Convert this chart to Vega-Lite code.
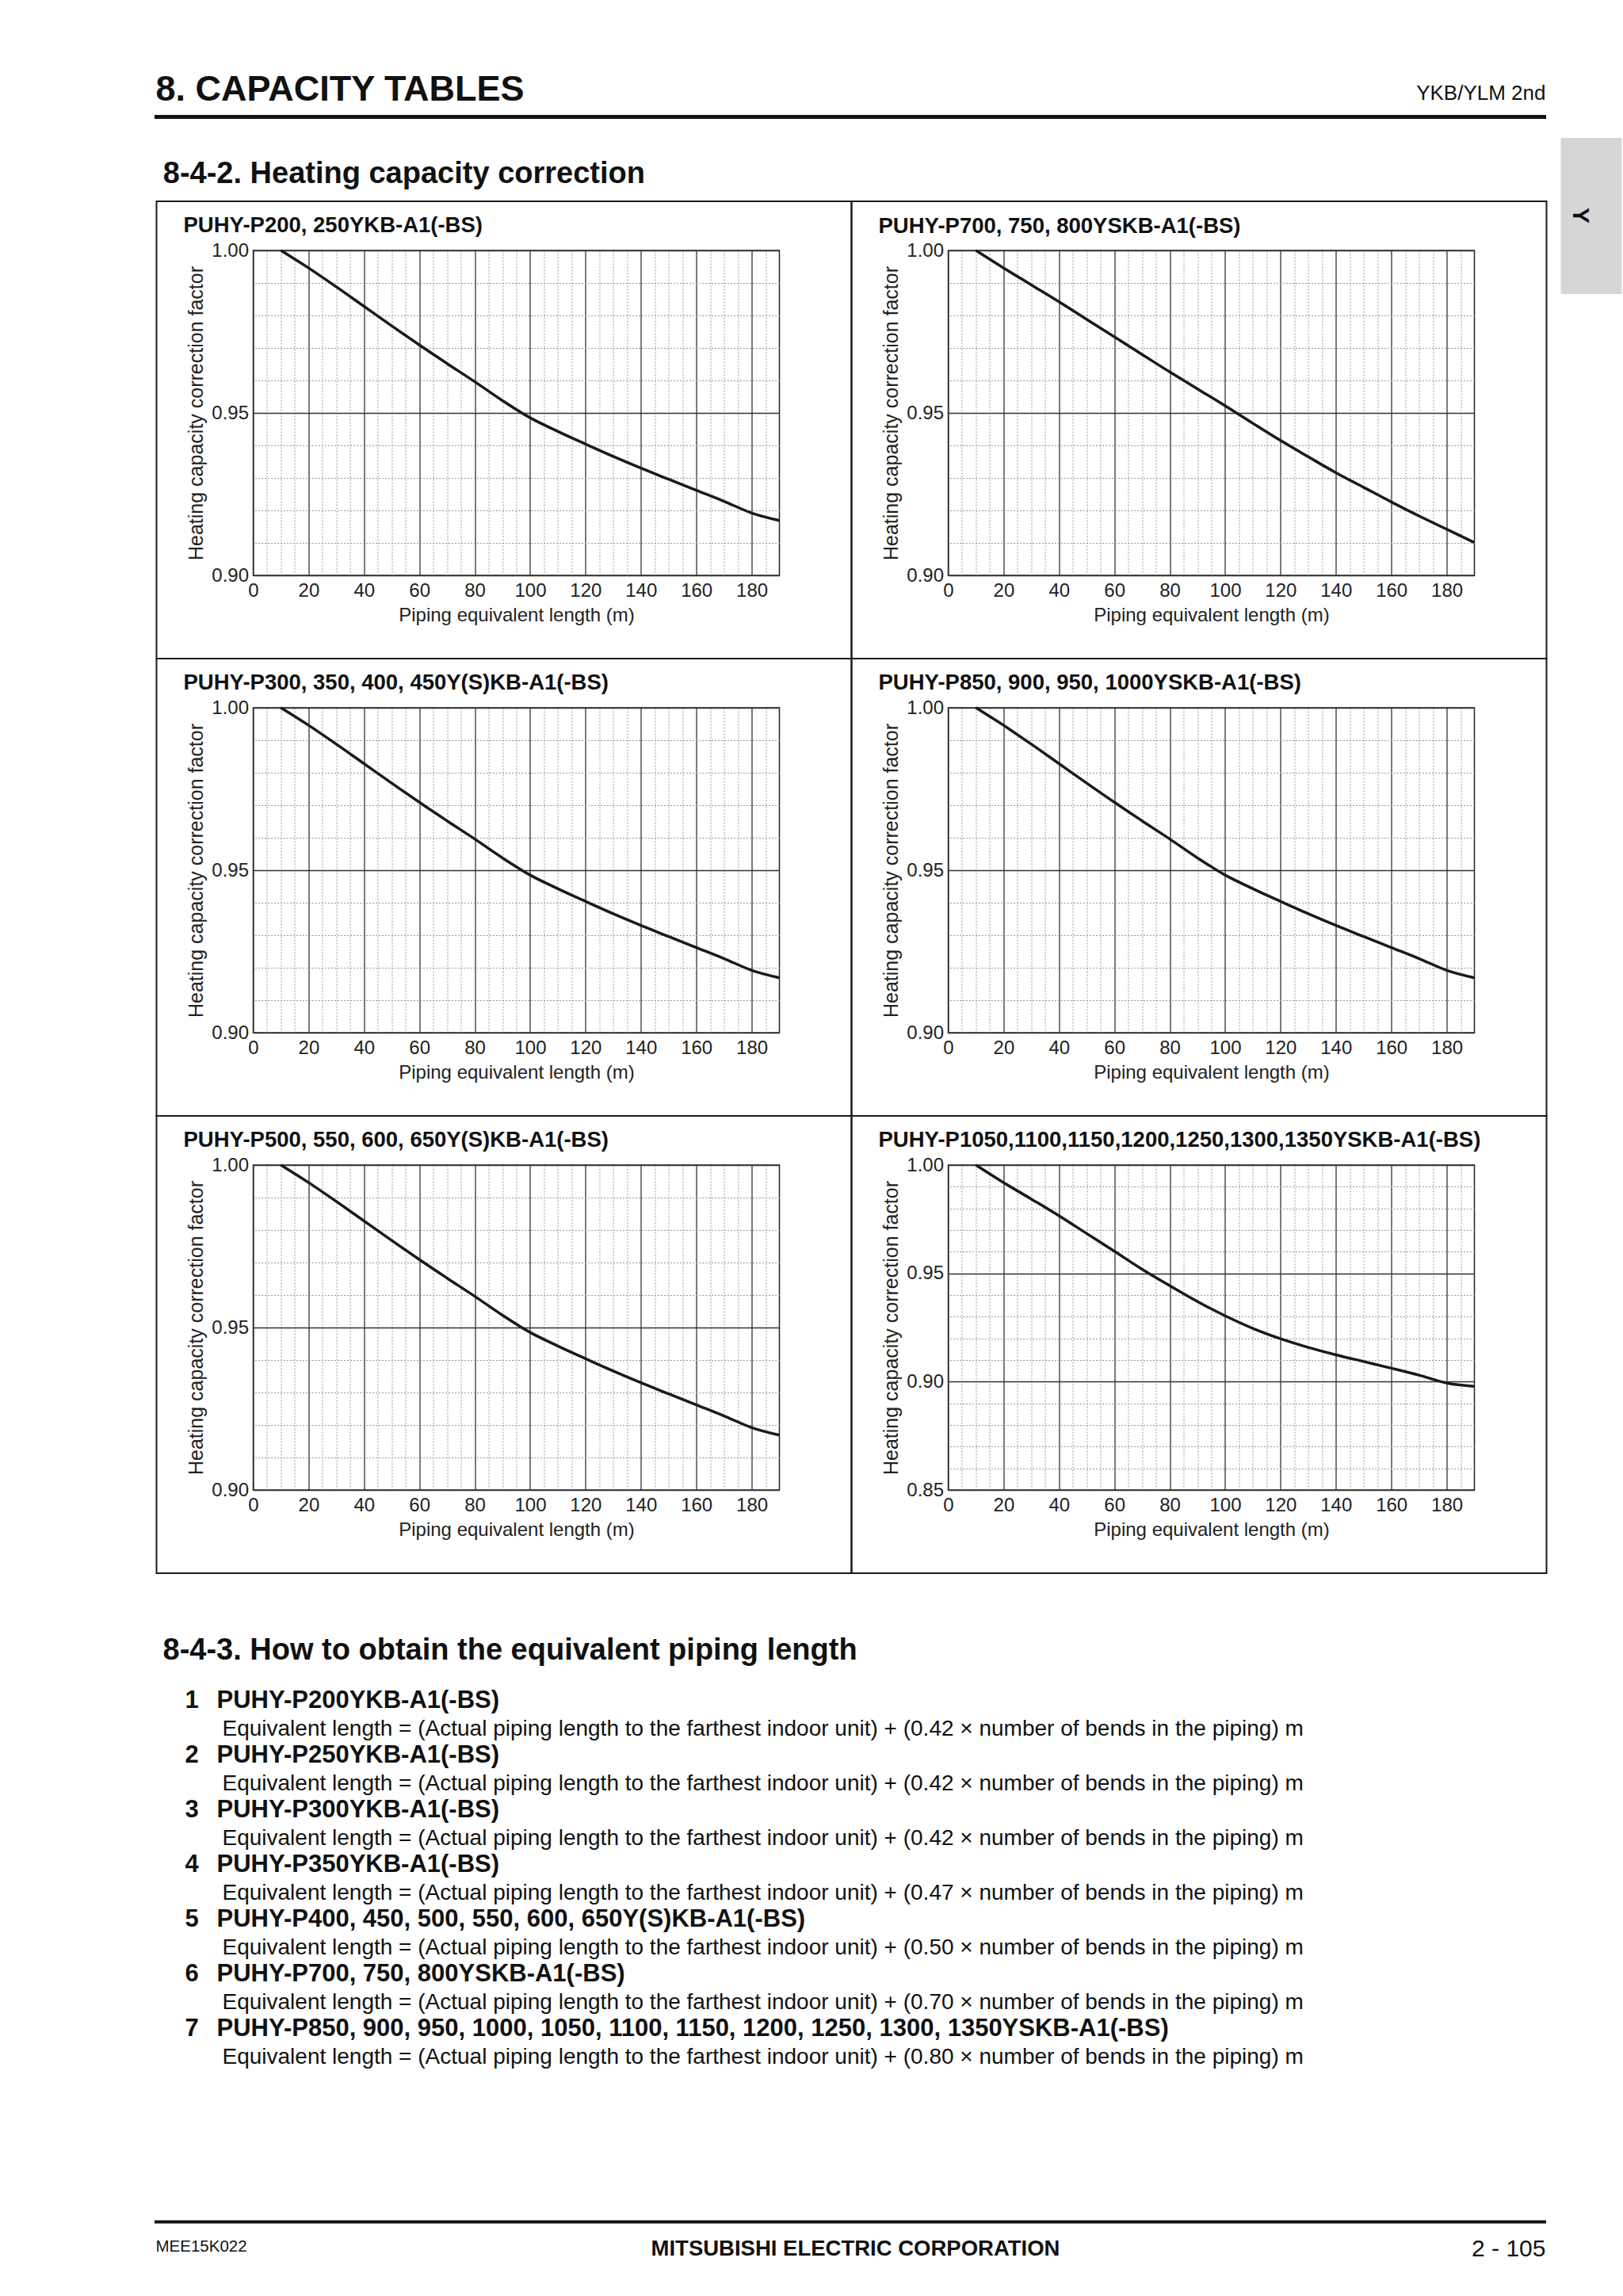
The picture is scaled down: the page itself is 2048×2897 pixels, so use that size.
{
  "$schema": "https://vega.github.io/schema/vega-lite/v6.json",
  "background": "white",
  "padding": {"left": 194.5, "top": 90, "right": 0, "bottom": 0},
  "autosize": {"type": "pad"},
  "config": {"font": "Liberation Sans", "view": {"stroke": null}},
  "datasets": {
    "c1": [{"length":10,"factor":1.0},{"length":20,"factor":0.9946},{"length":30,"factor":0.9888},{"length":40,"factor":0.9828},{"length":50,"factor":0.9768},{"length":60,"factor":0.9709},{"length":70,"factor":0.9652},{"length":80,"factor":0.9596},{"length":90,"factor":0.9538},{"length":100,"factor":0.9485},{"length":110,"factor":0.9443},{"length":120,"factor":0.9404},{"length":130,"factor":0.9366},{"length":140,"factor":0.933},{"length":150,"factor":0.9296},{"length":160,"factor":0.9262},{"length":170,"factor":0.9228},{"length":180,"factor":0.9192},{"length":190,"factor":0.9169}],
    "c2": [{"length":10,"factor":1.0},{"length":20,"factor":0.9946},{"length":30,"factor":0.9894},{"length":40,"factor":0.9842},{"length":50,"factor":0.9788},{"length":60,"factor":0.9734},{"length":70,"factor":0.968},{"length":80,"factor":0.9626},{"length":90,"factor":0.9574},{"length":100,"factor":0.9522},{"length":110,"factor":0.9468},{"length":120,"factor":0.9415},{"length":130,"factor":0.9365},{"length":140,"factor":0.9316},{"length":150,"factor":0.9271},{"length":160,"factor":0.9226},{"length":170,"factor":0.9183},{"length":180,"factor":0.9142},{"length":190,"factor":0.9101}],
    "c3": [{"length":10,"factor":1.0},{"length":20,"factor":0.9946},{"length":30,"factor":0.9888},{"length":40,"factor":0.9828},{"length":50,"factor":0.9768},{"length":60,"factor":0.9709},{"length":70,"factor":0.9652},{"length":80,"factor":0.9596},{"length":90,"factor":0.9538},{"length":100,"factor":0.9485},{"length":110,"factor":0.9443},{"length":120,"factor":0.9404},{"length":130,"factor":0.9366},{"length":140,"factor":0.933},{"length":150,"factor":0.9296},{"length":160,"factor":0.9262},{"length":170,"factor":0.9228},{"length":180,"factor":0.9192},{"length":190,"factor":0.9169}],
    "c4": [{"length":10,"factor":1.0},{"length":20,"factor":0.9946},{"length":30,"factor":0.9888},{"length":40,"factor":0.9828},{"length":50,"factor":0.9768},{"length":60,"factor":0.9709},{"length":70,"factor":0.9652},{"length":80,"factor":0.9596},{"length":90,"factor":0.9538},{"length":100,"factor":0.9485},{"length":110,"factor":0.9443},{"length":120,"factor":0.9404},{"length":130,"factor":0.9366},{"length":140,"factor":0.933},{"length":150,"factor":0.9296},{"length":160,"factor":0.9262},{"length":170,"factor":0.9228},{"length":180,"factor":0.9192},{"length":190,"factor":0.9169}],
    "c5": [{"length":10,"factor":1.0},{"length":20,"factor":0.9946},{"length":30,"factor":0.9888},{"length":40,"factor":0.9828},{"length":50,"factor":0.9768},{"length":60,"factor":0.9709},{"length":70,"factor":0.9652},{"length":80,"factor":0.9596},{"length":90,"factor":0.9538},{"length":100,"factor":0.9485},{"length":110,"factor":0.9443},{"length":120,"factor":0.9404},{"length":130,"factor":0.9366},{"length":140,"factor":0.933},{"length":150,"factor":0.9296},{"length":160,"factor":0.9262},{"length":170,"factor":0.9228},{"length":180,"factor":0.9192},{"length":190,"factor":0.9169}],
    "c6": [{"length":10,"factor":1.0},{"length":20,"factor":0.9919},{"length":30,"factor":0.9843},{"length":40,"factor":0.9766},{"length":50,"factor":0.9684},{"length":60,"factor":0.9602},{"length":70,"factor":0.9519},{"length":80,"factor":0.9443},{"length":90,"factor":0.937},{"length":100,"factor":0.9304},{"length":110,"factor":0.9246},{"length":120,"factor":0.9198},{"length":130,"factor":0.9158},{"length":140,"factor":0.9124},{"length":150,"factor":0.9093},{"length":160,"factor":0.9062},{"length":170,"factor":0.903},{"length":180,"factor":0.8994},{"length":190,"factor":0.8978}],
    "list": [
      {"line":1,"kind":"model","num":"1","text":"PUHY-P200YKB-A1(-BS)"},
      {"line":2,"kind":"formula","num":"","text":"Equivalent length = (Actual piping length to the farthest indoor unit) + (0.42 × number of bends in the piping) m"},
      {"line":3,"kind":"model","num":"2","text":"PUHY-P250YKB-A1(-BS)"},
      {"line":4,"kind":"formula","num":"","text":"Equivalent length = (Actual piping length to the farthest indoor unit) + (0.42 × number of bends in the piping) m"},
      {"line":5,"kind":"model","num":"3","text":"PUHY-P300YKB-A1(-BS)"},
      {"line":6,"kind":"formula","num":"","text":"Equivalent length = (Actual piping length to the farthest indoor unit) + (0.42 × number of bends in the piping) m"},
      {"line":7,"kind":"model","num":"4","text":"PUHY-P350YKB-A1(-BS)"},
      {"line":8,"kind":"formula","num":"","text":"Equivalent length = (Actual piping length to the farthest indoor unit) + (0.47 × number of bends in the piping) m"},
      {"line":9,"kind":"model","num":"5","text":"PUHY-P400, 450, 500, 550, 600, 650Y(S)KB-A1(-BS)"},
      {"line":10,"kind":"formula","num":"","text":"Equivalent length = (Actual piping length to the farthest indoor unit) + (0.50 × number of bends in the piping) m"},
      {"line":11,"kind":"model","num":"6","text":"PUHY-P700, 750, 800YSKB-A1(-BS)"},
      {"line":12,"kind":"formula","num":"","text":"Equivalent length = (Actual piping length to the farthest indoor unit) + (0.70 × number of bends in the piping) m"},
      {"line":13,"kind":"model","num":"7","text":"PUHY-P850, 900, 950, 1000, 1050, 1100, 1150, 1200, 1250, 1300, 1350YSKB-A1(-BS)"},
      {"line":14,"kind":"formula","num":"","text":"Equivalent length = (Actual piping length to the farthest indoor unit) + (0.80 × number of bends in the piping) m"}
    ]
  },
  "spacing": 26,
  "vconcat": [
    {
      "width": 1756,
      "height": 37,
      "encoding": {
        "x": {"field": "side", "type": "nominal", "scale": {"type": "point", "domain": ["left", "right"], "padding": 0},
              "axis": {"orient": "bottom", "labels": false, "ticks": false, "grid": false, "domain": true, "domainColor": "#111111", "domainWidth": 5, "title": null}}
      },
      "layer": [
        {"data": {"values": [{"side": "left", "label": "8. CAPACITY TABLES"}]},
         "mark": {"type": "text", "align": "left", "baseline": "alphabetic", "dx": 2, "dy": -2, "fontSize": 45, "fontWeight": "bold", "color": "#111111"},
         "encoding": {"text": {"field": "label"}}},
        {"data": {"values": [{"side": "right", "label": "YKB/YLM 2nd"}]},
         "mark": {"type": "text", "align": "right", "baseline": "alphabetic", "fontSize": 26, "dy": -3, "color": "#111111"},
         "encoding": {"text": {"field": "label"}}}
      ]
    },
    {
      "spacing": 77,
      "vconcat": [
        {
          "spacing": 0,
          "hconcat": [
            {"width": 1, "height": 1, "data": {"values": []}, "mark": {"type": "point", "opacity": 0}},
            {
              "title": {"text": "8-4-2. Heating capacity correction", "anchor": "start", "frame": "bounds", "dx": 10, "offset": -96, "baseline": "alphabetic", "fontSize": 38, "fontWeight": "bold", "color": "#111111"},
              "columns": 2,
              "bounds": "flush",
              "spacing": {"row": 167, "column": 213},
              "concat": [
                {
                  "width": 664, "height": 410,
                  "view": {"stroke": "#222222", "strokeWidth": 1.5},
                  "title": {"text": "PUHY-P200, 250YKB-A1(-BS)", "anchor": "start", "frame": "group", "dx": -88, "offset": -68, "baseline": "alphabetic", "fontSize": 27.5, "fontWeight": "bold", "color": "#111111"},
                  "layer": [
                    {"data": {"values": [{}]},
                     "mark": {"type": "rect", "filled": false, "color": "#1a1a1a", "strokeWidth": 2},
                     "encoding": {
                       "x": {"datum": -34.91, "type": "quantitative", "scale": {"domain": [0, 190], "nice": false, "zero": false},
                             "axis": {"orient": "top", "values": [5,10,15,25,30,35,45,50,55,65,70,75,85,90,95,105,110,115,125,130,135,145,150,155,165,170,175,185], "grid": true, "gridColor": "#999999", "gridDash": [2, 2], "gridWidth": 1, "labels": false, "ticks": false, "domain": false, "title": null}},
                       "x2": {"datum": 216.039},
                       "y": {"datum": 1.015122, "type": "quantitative", "scale": {"domain": [0.9, 1.0], "nice": false, "zero": false},
                             "axis": {"orient": "right", "values": [0.91,0.92,0.93,0.94,0.96,0.97,0.98,0.99], "grid": true, "gridColor": "#999999", "gridDash": [2, 2], "gridWidth": 1, "labels": false, "ticks": false, "domain": false, "title": null}},
                       "y2": {"datum": 0.87439}
                     }},
                    {"data": {"name": "c1"},
                     "mark": {"type": "line", "color": "#1a1a1a", "strokeWidth": 3.5, "interpolate": "monotone"},
                     "encoding": {
                       "x": {"field": "length", "type": "quantitative", "scale": {"domain": [0, 190], "nice": false, "zero": false},
                             "axis": {"orient": "bottom", "values": [0,20,40,60,80,100,120,140,160,180], "grid": true, "gridColor": "#333333", "gridWidth": 1.3, "ticks": false, "tickSize": 0, "domain": false, "labelFontSize": 24, "labelColor": "#222222", "labelPadding": 7, "labelFlush": false, "labelOverlap": false, "title": "Piping equivalent length (m)", "titleFontSize": 24, "titleFontWeight": "normal", "titleColor": "#222222", "titlePadding": 7}},
                       "y": {"field": "factor", "type": "quantitative", "scale": {"domain": [0.9, 1.0], "nice": false, "zero": false},
                             "axis": {"orient": "left", "values": [0.9, 0.95, 1.0], "format": ".2f", "grid": true, "gridColor": "#333333", "gridWidth": 1.3, "ticks": false, "tickSize": 0, "domain": false, "labelFontSize": 24, "labelColor": "#222222", "labelPadding": 6, "labelFlush": false, "labelOverlap": false, "title": "Heating capacity correction factor", "titleFontSize": 25, "titleFontWeight": "normal", "titleColor": "#222222", "titlePadding": 6}}
                     }}
                  ],
                  "resolve": {"axis": {"x": "independent", "y": "independent"}}
                },
                {
                  "width": 664, "height": 410,
                  "view": {"stroke": "#222222", "strokeWidth": 1.5},
                  "title": {"text": "PUHY-P700, 750, 800YSKB-A1(-BS)", "anchor": "start", "frame": "group", "dx": -88, "offset": -147, "baseline": "alphabetic", "fontSize": 27.5, "fontWeight": "bold", "color": "#111111"},
                  "layer": [
                    {"data": {"values": [{}]},
                     "mark": {"type": "rect", "filled": false, "color": "#1a1a1a", "strokeWidth": 2},
                     "encoding": {
                       "x": {"datum": -34.91, "type": "quantitative", "scale": {"domain": [0, 190], "nice": false, "zero": false},
                             "axis": {"orient": "top", "values": [5,10,15,25,30,35,45,50,55,65,70,75,85,90,95,105,110,115,125,130,135,145,150,155,165,170,175,185], "grid": true, "gridColor": "#999999", "gridDash": [2, 2], "gridWidth": 1, "labels": false, "ticks": false, "domain": false, "title": null}},
                       "x2": {"datum": 216.039},
                       "y": {"datum": 1.015122, "type": "quantitative", "scale": {"domain": [0.9, 1.0], "nice": false, "zero": false},
                             "axis": {"orient": "right", "values": [0.91,0.92,0.93,0.94,0.96,0.97,0.98,0.99], "grid": true, "gridColor": "#999999", "gridDash": [2, 2], "gridWidth": 1, "labels": false, "ticks": false, "domain": false, "title": null}},
                       "y2": {"datum": 0.87439}
                     }},
                    {"data": {"name": "c2"},
                     "mark": {"type": "line", "color": "#1a1a1a", "strokeWidth": 3.5, "interpolate": "monotone"},
                     "encoding": {
                       "x": {"field": "length", "type": "quantitative", "scale": {"domain": [0, 190], "nice": false, "zero": false},
                             "axis": {"orient": "bottom", "values": [0,20,40,60,80,100,120,140,160,180], "grid": true, "gridColor": "#333333", "gridWidth": 1.3, "ticks": false, "tickSize": 0, "domain": false, "labelFontSize": 24, "labelColor": "#222222", "labelPadding": 7, "labelFlush": false, "labelOverlap": false, "title": "Piping equivalent length (m)", "titleFontSize": 24, "titleFontWeight": "normal", "titleColor": "#222222", "titlePadding": 7}},
                       "y": {"field": "factor", "type": "quantitative", "scale": {"domain": [0.9, 1.0], "nice": false, "zero": false},
                             "axis": {"orient": "left", "values": [0.9, 0.95, 1.0], "format": ".2f", "grid": true, "gridColor": "#333333", "gridWidth": 1.3, "ticks": false, "tickSize": 0, "domain": false, "labelFontSize": 24, "labelColor": "#222222", "labelPadding": 6, "labelFlush": false, "labelOverlap": false, "title": "Heating capacity correction factor", "titleFontSize": 25, "titleFontWeight": "normal", "titleColor": "#222222", "titlePadding": 6}}
                     }},
                    {"data": {"values": [{}]},
                     "mark": {"type": "rect", "color": "#d6d6d6"},
                     "encoding": {
                       "x": {"datum": 221.19, "type": "quantitative", "scale": {"domain": [0, 190], "nice": false, "zero": false}, "axis": null},
                       "x2": {"datum": 243.223},
                       "y": {"datum": 1.034634, "type": "quantitative", "scale": {"domain": [0.9, 1.0], "nice": false, "zero": false}, "axis": null},
                       "y2": {"datum": 0.986585}
                     }},
                    {"data": {"values": [{"tab": "Y"}]},
                     "mark": {"type": "text", "angle": 90, "align": "center", "baseline": "middle", "fontSize": 30, "fontWeight": "bold", "color": "#111111"},
                     "encoding": {
                       "x": {"datum": 228.058, "type": "quantitative", "scale": {"domain": [0, 190], "nice": false, "zero": false}, "axis": null},
                       "y": {"datum": 1.010732, "type": "quantitative", "scale": {"domain": [0.9, 1.0], "nice": false, "zero": false}, "axis": null},
                       "text": {"field": "tab"}
                     }}
                  ],
                  "resolve": {"axis": {"x": "independent", "y": "independent"}}
                },
                {
                  "width": 664, "height": 410,
                  "view": {"stroke": "#222222", "strokeWidth": 1.5},
                  "title": {"text": "PUHY-P300, 350, 400, 450Y(S)KB-A1(-BS)", "anchor": "start", "frame": "group", "dx": -88, "offset": -68, "baseline": "alphabetic", "fontSize": 27.5, "fontWeight": "bold", "color": "#111111"},
                  "layer": [
                    {"data": {"values": [{}]},
                     "mark": {"type": "rect", "filled": false, "color": "#1a1a1a", "strokeWidth": 2},
                     "encoding": {
                       "x": {"datum": -34.91, "type": "quantitative", "scale": {"domain": [0, 190], "nice": false, "zero": false},
                             "axis": {"orient": "top", "values": [5,10,15,25,30,35,45,50,55,65,70,75,85,90,95,105,110,115,125,130,135,145,150,155,165,170,175,185], "grid": true, "gridColor": "#999999", "gridDash": [2, 2], "gridWidth": 1, "labels": false, "ticks": false, "domain": false, "title": null}},
                       "x2": {"datum": 216.039},
                       "y": {"datum": 1.015122, "type": "quantitative", "scale": {"domain": [0.9, 1.0], "nice": false, "zero": false},
                             "axis": {"orient": "right", "values": [0.91,0.92,0.93,0.94,0.96,0.97,0.98,0.99], "grid": true, "gridColor": "#999999", "gridDash": [2, 2], "gridWidth": 1, "labels": false, "ticks": false, "domain": false, "title": null}},
                       "y2": {"datum": 0.87439}
                     }},
                    {"data": {"name": "c3"},
                     "mark": {"type": "line", "color": "#1a1a1a", "strokeWidth": 3.5, "interpolate": "monotone"},
                     "encoding": {
                       "x": {"field": "length", "type": "quantitative", "scale": {"domain": [0, 190], "nice": false, "zero": false},
                             "axis": {"orient": "bottom", "values": [0,20,40,60,80,100,120,140,160,180], "grid": true, "gridColor": "#333333", "gridWidth": 1.3, "ticks": false, "tickSize": 0, "domain": false, "labelFontSize": 24, "labelColor": "#222222", "labelPadding": 7, "labelFlush": false, "labelOverlap": false, "title": "Piping equivalent length (m)", "titleFontSize": 24, "titleFontWeight": "normal", "titleColor": "#222222", "titlePadding": 7}},
                       "y": {"field": "factor", "type": "quantitative", "scale": {"domain": [0.9, 1.0], "nice": false, "zero": false},
                             "axis": {"orient": "left", "values": [0.9, 0.95, 1.0], "format": ".2f", "grid": true, "gridColor": "#333333", "gridWidth": 1.3, "ticks": false, "tickSize": 0, "domain": false, "labelFontSize": 24, "labelColor": "#222222", "labelPadding": 6, "labelFlush": false, "labelOverlap": false, "title": "Heating capacity correction factor", "titleFontSize": 25, "titleFontWeight": "normal", "titleColor": "#222222", "titlePadding": 6}}
                     }}
                  ],
                  "resolve": {"axis": {"x": "independent", "y": "independent"}}
                },
                {
                  "width": 664, "height": 410,
                  "view": {"stroke": "#222222", "strokeWidth": 1.5},
                  "title": {"text": "PUHY-P850, 900, 950, 1000YSKB-A1(-BS)", "anchor": "start", "frame": "group", "dx": -88, "offset": -68, "baseline": "alphabetic", "fontSize": 27.5, "fontWeight": "bold", "color": "#111111"},
                  "layer": [
                    {"data": {"values": [{}]},
                     "mark": {"type": "rect", "filled": false, "color": "#1a1a1a", "strokeWidth": 2},
                     "encoding": {
                       "x": {"datum": -34.91, "type": "quantitative", "scale": {"domain": [0, 190], "nice": false, "zero": false},
                             "axis": {"orient": "top", "values": [5,10,15,25,30,35,45,50,55,65,70,75,85,90,95,105,110,115,125,130,135,145,150,155,165,170,175,185], "grid": true, "gridColor": "#999999", "gridDash": [2, 2], "gridWidth": 1, "labels": false, "ticks": false, "domain": false, "title": null}},
                       "x2": {"datum": 216.039},
                       "y": {"datum": 1.015122, "type": "quantitative", "scale": {"domain": [0.9, 1.0], "nice": false, "zero": false},
                             "axis": {"orient": "right", "values": [0.91,0.92,0.93,0.94,0.96,0.97,0.98,0.99], "grid": true, "gridColor": "#999999", "gridDash": [2, 2], "gridWidth": 1, "labels": false, "ticks": false, "domain": false, "title": null}},
                       "y2": {"datum": 0.87439}
                     }},
                    {"data": {"name": "c4"},
                     "mark": {"type": "line", "color": "#1a1a1a", "strokeWidth": 3.5, "interpolate": "monotone"},
                     "encoding": {
                       "x": {"field": "length", "type": "quantitative", "scale": {"domain": [0, 190], "nice": false, "zero": false},
                             "axis": {"orient": "bottom", "values": [0,20,40,60,80,100,120,140,160,180], "grid": true, "gridColor": "#333333", "gridWidth": 1.3, "ticks": false, "tickSize": 0, "domain": false, "labelFontSize": 24, "labelColor": "#222222", "labelPadding": 7, "labelFlush": false, "labelOverlap": false, "title": "Piping equivalent length (m)", "titleFontSize": 24, "titleFontWeight": "normal", "titleColor": "#222222", "titlePadding": 7}},
                       "y": {"field": "factor", "type": "quantitative", "scale": {"domain": [0.9, 1.0], "nice": false, "zero": false},
                             "axis": {"orient": "left", "values": [0.9, 0.95, 1.0], "format": ".2f", "grid": true, "gridColor": "#333333", "gridWidth": 1.3, "ticks": false, "tickSize": 0, "domain": false, "labelFontSize": 24, "labelColor": "#222222", "labelPadding": 6, "labelFlush": false, "labelOverlap": false, "title": "Heating capacity correction factor", "titleFontSize": 25, "titleFontWeight": "normal", "titleColor": "#222222", "titlePadding": 6}}
                     }}
                  ],
                  "resolve": {"axis": {"x": "independent", "y": "independent"}}
                },
                {
                  "width": 664, "height": 410,
                  "view": {"stroke": "#222222", "strokeWidth": 1.5},
                  "title": {"text": "PUHY-P500, 550, 600, 650Y(S)KB-A1(-BS)", "anchor": "start", "frame": "group", "dx": -88, "offset": -68, "baseline": "alphabetic", "fontSize": 27.5, "fontWeight": "bold", "color": "#111111"},
                  "layer": [
                    {"data": {"values": [{}]},
                     "mark": {"type": "rect", "filled": false, "color": "#1a1a1a", "strokeWidth": 2},
                     "encoding": {
                       "x": {"datum": -34.91, "type": "quantitative", "scale": {"domain": [0, 190], "nice": false, "zero": false},
                             "axis": {"orient": "top", "values": [5,10,15,25,30,35,45,50,55,65,70,75,85,90,95,105,110,115,125,130,135,145,150,155,165,170,175,185], "grid": true, "gridColor": "#999999", "gridDash": [2, 2], "gridWidth": 1, "labels": false, "ticks": false, "domain": false, "title": null}},
                       "x2": {"datum": 216.039},
                       "y": {"datum": 1.015122, "type": "quantitative", "scale": {"domain": [0.9, 1.0], "nice": false, "zero": false},
                             "axis": {"orient": "right", "values": [0.91,0.92,0.93,0.94,0.96,0.97,0.98,0.99], "grid": true, "gridColor": "#999999", "gridDash": [2, 2], "gridWidth": 1, "labels": false, "ticks": false, "domain": false, "title": null}},
                       "y2": {"datum": 0.87439}
                     }},
                    {"data": {"name": "c5"},
                     "mark": {"type": "line", "color": "#1a1a1a", "strokeWidth": 3.5, "interpolate": "monotone"},
                     "encoding": {
                       "x": {"field": "length", "type": "quantitative", "scale": {"domain": [0, 190], "nice": false, "zero": false},
                             "axis": {"orient": "bottom", "values": [0,20,40,60,80,100,120,140,160,180], "grid": true, "gridColor": "#333333", "gridWidth": 1.3, "ticks": false, "tickSize": 0, "domain": false, "labelFontSize": 24, "labelColor": "#222222", "labelPadding": 7, "labelFlush": false, "labelOverlap": false, "title": "Piping equivalent length (m)", "titleFontSize": 24, "titleFontWeight": "normal", "titleColor": "#222222", "titlePadding": 7}},
                       "y": {"field": "factor", "type": "quantitative", "scale": {"domain": [0.9, 1.0], "nice": false, "zero": false},
                             "axis": {"orient": "left", "values": [0.9, 0.95, 1.0], "format": ".2f", "grid": true, "gridColor": "#333333", "gridWidth": 1.3, "ticks": false, "tickSize": 0, "domain": false, "labelFontSize": 24, "labelColor": "#222222", "labelPadding": 6, "labelFlush": false, "labelOverlap": false, "title": "Heating capacity correction factor", "titleFontSize": 25, "titleFontWeight": "normal", "titleColor": "#222222", "titlePadding": 6}}
                     }}
                  ],
                  "resolve": {"axis": {"x": "independent", "y": "independent"}}
                },
                {
                  "width": 664, "height": 410,
                  "view": {"stroke": "#222222", "strokeWidth": 1.5},
                  "title": {"text": "PUHY-P1050,1100,1150,1200,1250,1300,1350YSKB-A1(-BS)", "anchor": "start", "frame": "group", "dx": -88, "offset": -68, "baseline": "alphabetic", "fontSize": 27.5, "fontWeight": "bold", "color": "#111111"},
                  "layer": [
                    {"data": {"values": [{}]},
                     "mark": {"type": "rect", "filled": false, "color": "#1a1a1a", "strokeWidth": 2},
                     "encoding": {
                       "x": {"datum": -34.91, "type": "quantitative", "scale": {"domain": [0, 190], "nice": false, "zero": false},
                             "axis": {"orient": "top", "values": [5,10,15,25,30,35,45,50,55,65,70,75,85,90,95,105,110,115,125,130,135,145,150,155,165,170,175,185], "grid": true, "gridColor": "#999999", "gridDash": [2, 2], "gridWidth": 1, "labels": false, "ticks": false, "domain": false, "title": null}},
                       "x2": {"datum": 216.039},
                       "y": {"datum": 1.022683, "type": "quantitative", "scale": {"domain": [0.85, 1.0], "nice": false, "zero": false},
                             "axis": {"orient": "right", "values": [0.86,0.87,0.88,0.89,0.91,0.92,0.93,0.94,0.96,0.97,0.98,0.99], "grid": true, "gridColor": "#999999", "gridDash": [2, 2], "gridWidth": 1, "labels": false, "ticks": false, "domain": false, "title": null}},
                       "y2": {"datum": 0.811585}
                     }},
                    {"data": {"name": "c6"},
                     "mark": {"type": "line", "color": "#1a1a1a", "strokeWidth": 3.5, "interpolate": "monotone"},
                     "encoding": {
                       "x": {"field": "length", "type": "quantitative", "scale": {"domain": [0, 190], "nice": false, "zero": false},
                             "axis": {"orient": "bottom", "values": [0,20,40,60,80,100,120,140,160,180], "grid": true, "gridColor": "#333333", "gridWidth": 1.3, "ticks": false, "tickSize": 0, "domain": false, "labelFontSize": 24, "labelColor": "#222222", "labelPadding": 7, "labelFlush": false, "labelOverlap": false, "title": "Piping equivalent length (m)", "titleFontSize": 24, "titleFontWeight": "normal", "titleColor": "#222222", "titlePadding": 7}},
                       "y": {"field": "factor", "type": "quantitative", "scale": {"domain": [0.85, 1.0], "nice": false, "zero": false},
                             "axis": {"orient": "left", "values": [0.85, 0.9, 0.95, 1.0], "format": ".2f", "grid": true, "gridColor": "#333333", "gridWidth": 1.3, "ticks": false, "tickSize": 0, "domain": false, "labelFontSize": 24, "labelColor": "#222222", "labelPadding": 6, "labelFlush": false, "labelOverlap": false, "title": "Heating capacity correction factor", "titleFontSize": 25, "titleFontWeight": "normal", "titleColor": "#222222", "titlePadding": 6}}
                     }}
                  ],
                  "resolve": {"axis": {"x": "independent", "y": "independent"}}
                }
              ]
            }
          ]
        },
        {
          "spacing": 182,
          "vconcat": [
            {
              "width": 168,
              "height": 483,
              "title": {"text": "8-4-3. How to obtain the equivalent piping length", "anchor": "start", "frame": "group", "dx": 11, "offset": -2, "baseline": "alphabetic", "fontSize": 38, "fontWeight": "bold", "color": "#111111"},
              "data": {"name": "list"},
              "encoding": {
                "y": {"field": "line", "type": "ordinal", "scale": {"type": "point", "domain": [1,2,3,4,5,6,7,8,9,10,11,12,13,14], "padding": 0.5}, "axis": null}
              },
              "layer": [
                {"transform": [{"filter": "datum.kind === 'model'"}],
                 "mark": {"type": "text", "align": "left", "baseline": "alphabetic", "dx": -45, "fontSize": 31, "fontWeight": "bold", "color": "#111111"},
                 "encoding": {"text": {"field": "num"}}},
                {"transform": [{"filter": "datum.kind === 'model'"}],
                 "mark": {"type": "text", "align": "left", "baseline": "alphabetic", "dx": -5, "fontSize": 31, "fontWeight": "bold", "color": "#111111"},
                 "encoding": {"text": {"field": "text"}}},
                {"transform": [{"filter": "datum.kind === 'formula'"}],
                 "mark": {"type": "text", "align": "left", "baseline": "alphabetic", "dx": 2, "fontSize": 28, "color": "#111111"},
                 "encoding": {"text": {"field": "text"}}}
              ]
            },
            {
              "width": 1756,
              "height": 84,
              "encoding": {
                "x": {"field": "side", "type": "nominal", "scale": {"type": "point", "domain": ["left", "center", "right"], "padding": 0},
                      "axis": {"orient": "top", "labels": false, "ticks": false, "grid": false, "domain": true, "domainColor": "#111111", "domainWidth": 4, "title": null}}
              },
              "layer": [
                {"data": {"values": [{"side": "left", "label": "MEE15K022"}]},
                 "mark": {"type": "text", "align": "left", "baseline": "alphabetic", "dx": 2, "dy": -4, "fontSize": 20.5, "color": "#111111"},
                 "encoding": {"text": {"field": "label"}}},
                {"data": {"values": [{"side": "center", "label": "MITSUBISHI ELECTRIC CORPORATION"}]},
                 "mark": {"type": "text", "align": "center", "baseline": "alphabetic", "dy": 1, "dx": 7, "fontSize": 27.5, "fontWeight": "bold", "color": "#111111"},
                 "encoding": {"text": {"field": "label"}}},
                {"data": {"values": [{"side": "right", "label": "2 - 105"}]},
                 "mark": {"type": "text", "align": "right", "baseline": "alphabetic", "dy": 2, "fontSize": 30, "color": "#111111"},
                 "encoding": {"text": {"field": "label"}}}
              ]
            }
          ]
        }
      ]
    }
  ]
}
